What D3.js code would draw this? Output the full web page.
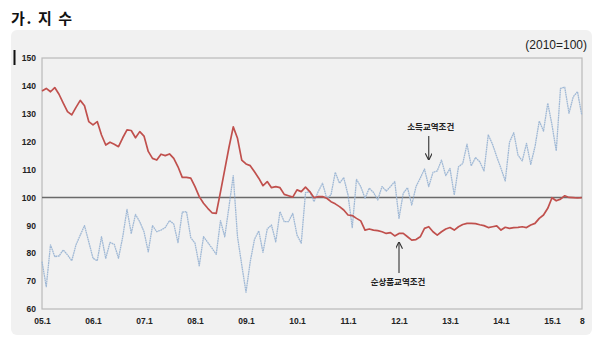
<!DOCTYPE html>
<html>
<head>
<meta charset="utf-8">
<script src="https://cdn.jsdelivr.net/npm/d3@7"></script>
<style>
  html, body { margin: 0; padding: 0; background: #ffffff; }
  svg { display: block; }
</style>
</head>
<body>
<svg id="chart" width="600" height="346"></svg>
<script>
// Monthly index, 2005.1 – 2015.8 (2010 = 100)
const monthIndex = d3.range(128);

// 순상품교역조건 (net barter terms of trade)
const netBarter = [
  138.2, 139.1, 137.9, 139.4, 137.0, 133.8, 130.8, 129.6, 132.3, 134.8, 132.9, 127.2,
  126.0, 127.2, 122.4, 118.8, 119.8, 119.1, 118.2, 121.4, 124.2, 124.0, 121.4, 123.6,
  122.0, 116.5, 114.0, 113.4, 115.5, 115.0, 115.6, 114.0, 111.0, 107.2, 107.2, 106.9,
  103.9, 100.3, 97.9, 96.1, 94.5, 94.3, 102.0, 110.0, 118.0, 125.3, 121.2, 113.4,
  112.0, 111.4, 109.2, 106.9, 104.2, 105.7, 103.5, 103.9, 103.5, 101.1, 100.6, 100.1,
  102.7, 102.1, 103.7, 102.1, 99.9, 100.3, 100.3, 99.7, 98.5, 97.7, 96.7, 95.5,
  93.7, 93.5, 92.5, 91.6, 88.3, 88.7, 88.3, 88.1, 87.7, 87.1, 87.4, 86.2,
  87.1, 87.1, 85.9, 84.7, 84.9, 85.9, 88.9, 89.5, 87.7, 86.5, 87.7, 88.7,
  89.2, 88.3, 89.5, 90.3, 90.7, 90.7, 90.6, 90.2, 89.9, 89.2, 89.5, 89.8,
  88.3, 89.3, 88.9, 89.2, 89.3, 89.5, 89.2, 90.1, 90.7, 92.5, 93.7, 96.1,
  99.9, 98.8, 99.4, 100.6, 100.0, 99.9, 99.8, 99.9
];

// 소득교역조건 (income terms of trade)
const incomeTerms = [
  77.0, 68.0, 83.0, 78.8, 79.0, 81.2, 79.4, 77.3, 83.0, 86.5, 89.9, 84.1,
  78.2, 77.3, 85.9, 78.2, 83.9, 83.2, 78.2, 85.9, 95.7, 87.1, 93.9, 91.3,
  87.7, 80.5, 89.9, 87.7, 88.3, 89.2, 91.7, 90.5, 83.8, 94.7, 94.9, 85.6,
  83.6, 75.5, 85.9, 83.9, 81.8, 79.6, 91.7, 85.9, 96.7, 107.8, 85.9, 75.8,
  66.0, 77.0, 85.0, 88.0, 80.3, 88.7, 90.1, 84.1, 94.9, 91.3, 91.3, 94.3,
  86.5, 83.6, 101.7, 102.1, 98.5, 102.1, 105.1, 99.7, 100.9, 109.0, 105.1, 107.1,
  100.9, 89.2, 106.5, 103.9, 99.7, 103.3, 101.8, 99.1, 103.9, 102.3, 103.9, 105.7,
  92.5, 101.5, 103.5, 97.3, 103.9, 106.9, 110.2, 103.9, 109.0, 109.5, 113.4, 107.8,
  110.4, 100.9, 111.0, 112.2, 119.1, 111.3, 114.3, 112.8, 109.5, 122.4, 119.1, 114.6,
  110.4, 105.9, 119.8, 123.2, 115.2, 113.1, 119.4, 111.9, 118.2, 127.4, 123.8, 133.8,
  126.0, 116.7, 139.1, 139.5, 130.2, 136.1, 137.9, 129.6
];

// Axis ticks
const xTickIndex  = [0, 12, 24, 36, 48, 60, 72, 84, 96, 108, 120, 127];
const xTickLabels = ["05.1", "06.1", "07.1", "08.1", "09.1", "10.1", "11.1", "12.1", "13.1", "14.1", "15.1", "8"];
const yTicks      = [60, 70, 80, 90, 100, 110, 120, 130, 140, 150];
const baseValue   = 100;

const title     = "가. 지 수";
const unitLabel = "(2010=100)";
const incomeLabel = "소득교역조건";
const netLabel    = "순상품교역조건";

const svg = d3.select("#chart");
const plot = { left: 42, right: 582, top: 58, bottom: 309 };

const x = d3.scaleLinear().domain([0, 127]).range([plot.left, plot.right - 0.25]);
const y = d3.scaleLinear().domain([60, 150]).range([plot.bottom, plot.top]);

// Title
svg.append("text")
  .attr("x", 11).attr("y", 24)
  .attr("font-family", "'Noto Sans CJK KR', sans-serif")
  .attr("font-weight", "bold")
  .attr("font-size", 15)
  .attr("letter-spacing", 1.6)
  .attr("fill", "#111")
  .text(title);

// Panel background
svg.append("rect")
  .attr("x", 11).attr("y", 30)
  .attr("width", 581).attr("height", 305)
  .attr("rx", 6).attr("ry", 6)
  .attr("fill", "#f1f1f1");

// Small dark marker at top-left of the panel
svg.append("rect")
  .attr("x", 13.5).attr("y", 50)
  .attr("width", 2).attr("height", 15)
  .attr("fill", "#111");

// Unit label
svg.append("text")
  .attr("x", 587).attr("y", 49)
  .attr("text-anchor", "end")
  .attr("font-family", "'Liberation Sans', Arial, sans-serif")
  .attr("font-size", 12)
  .attr("fill", "#222")
  .text(unitLabel);

// Plot frame
svg.append("rect")
  .attr("x", plot.left).attr("y", plot.top)
  .attr("width", plot.right - plot.left).attr("height", plot.bottom - plot.top)
  .attr("fill", "none")
  .attr("stroke", "#b9b9b9")
  .attr("stroke-width", 1.2);

// Y axis labels
const yAxis = d3.axisLeft(y).tickValues(yTicks).tickSize(0).tickPadding(6);
const gy = svg.append("g").attr("transform", `translate(${plot.left},0)`).call(yAxis);
gy.select(".domain").remove();
gy.selectAll("text")
  .attr("font-family", "'Liberation Sans', Arial, sans-serif")
  .attr("font-weight", "bold")
  .attr("font-size", 8.5)
  .attr("fill", "#222");

// X axis labels
const xAxis = d3.axisBottom(x).tickValues(xTickIndex)
  .tickFormat((d, i) => xTickLabels[i]).tickSize(0).tickPadding(9);
const gx = svg.append("g").attr("transform", `translate(0,${plot.bottom})`).call(xAxis);
gx.select(".domain").remove();
gx.selectAll("text")
  .attr("font-family", "'Liberation Sans', Arial, sans-serif")
  .attr("font-weight", "bold")
  .attr("font-size", 8.5)
  .attr("fill", "#222");

// Base line at 100
svg.append("line")
  .attr("x1", plot.left).attr("x2", plot.right)
  .attr("y1", y(baseValue)).attr("y2", y(baseValue))
  .attr("stroke", "#6a6a6a")
  .attr("stroke-width", 1.5);

const line = d3.line().x((d, i) => x(monthIndex[i])).y(d => y(d));

// Income terms of trade
svg.append("path")
  .datum(incomeTerms)
  .attr("d", line)
  .attr("fill", "none")
  .attr("stroke", "#9fb8d5")
  .attr("stroke-width", 1.3)
  .attr("stroke-dasharray", "1.8,0.5")
  .attr("stroke-linejoin", "round");

// Net barter terms of trade
svg.append("path")
  .datum(netBarter)
  .attr("d", line)
  .attr("fill", "none")
  .attr("stroke", "#c0504d")
  .attr("stroke-width", 1.7)
  .attr("stroke-linejoin", "round");

// Arrowhead marker
const defs = svg.append("defs");
defs.append("marker")
  .attr("id", "arrow")
  .attr("viewBox", "0 0 10 10")
  .attr("refX", 9).attr("refY", 5)
  .attr("markerWidth", 7).attr("markerHeight", 7)
  .attr("markerUnits", "userSpaceOnUse")
  .attr("orient", "auto")
  .append("path")
  .attr("d", "M0,0 L10,5 L0,10")
  .attr("fill", "none")
  .attr("stroke", "#333")
  .attr("stroke-width", 1.6);

function annotate(label, idx, textY, arrowFrom, arrowTo, textDx) {
  const ax = x(idx);
  svg.append("line")
    .attr("x1", ax).attr("x2", ax)
    .attr("y1", arrowFrom).attr("y2", arrowTo)
    .attr("stroke", "#333")
    .attr("stroke-width", 1.1)
    .attr("marker-end", "url(#arrow)");
  svg.append("text")
    .attr("x", ax + textDx).attr("y", textY)
    .attr("text-anchor", "middle")
    .attr("font-family", "'Noto Sans CJK KR', sans-serif")
    .attr("font-weight", "bold")
    .attr("font-size", 8.5)
    .attr("fill", "#222")
    .text(label);
}

// Labels pointing at each series
annotate(incomeLabel, 91, 130, 136, y(incomeTerms[91]) - 27, 2);
annotate(netLabel, 84, 285, 273, y(netBarter[84]) + 9, -1);
</script>
</body>
</html>
